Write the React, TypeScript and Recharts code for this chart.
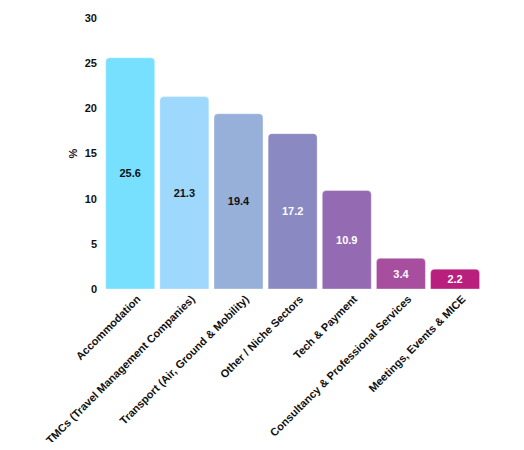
import React from 'react';
import { BarChart, Bar, XAxis, YAxis, Cell, LabelList } from 'recharts';

const categories = [
  'Accommodation',
  'TMCs (Travel Management Companies)',
  'Transport (Air, Ground & Mobility)',
  'Other / Niche Sectors',
  'Tech & Payment',
  'Consultancy & Professional Services',
  'Meetings, Events & MICE',
];
const values = [25.6, 21.3, 19.4, 17.2, 10.9, 3.4, 2.2];
const colors = ['#77E0FF', '#9ED8FD', '#97B0D9', '#8A89C2', '#946BB3', '#A74E9F', '#B91F7D'];
const labelColors = ['#111111', '#111111', '#111111', '#ffffff', '#ffffff', '#ffffff', '#ffffff'];
const yTicks = [0, 5, 10, 15, 20, 25, 30];

const data = categories.map((name, i) => ({ name, value: values[i] }));

const FONT = '"Liberation Sans", Arial, sans-serif';

const XTick = (props: any) => {
  const { x, y, payload } = props;
  return (
    <g transform={`translate(${x},${y})`}>
      <text
        x={0}
        y={0}
        dx={6}
        dy={10}
        textAnchor="end"
        transform="rotate(-45)"
        fontFamily={FONT}
        fontSize={11}
        fontWeight="bold"
        fill="#111"
      >
        {payload.value}
      </text>
    </g>
  );
};

const CenterLabel = (props: any) => {
  const { x, y, width, height, value, index } = props;
  return (
    <text
      x={x + width / 2}
      y={y + height / 2}
      textAnchor="middle"
      dominantBaseline="central"
      fontFamily={FONT}
      fontSize={11}
      fontWeight="bold"
      fill={labelColors[index]}
    >
      {value}
    </text>
  );
};

export default function App() {
  return (
    <div style={{ width: 508, height: 434 }}>
      <BarChart
        width={508}
        height={434}
        data={data}
        margin={{ top: 10, right: 34, left: 35, bottom: 3 }}
        barCategoryGap="5%"
      >
        <XAxis
          dataKey="name"
          axisLine={false}
          tickLine={false}
          interval={0}
          height={150}
          tick={<XTick />}
        />
        <YAxis
          width={60}
          domain={[0, 30]}
          ticks={yTicks}
          axisLine={false}
          tickLine={false}
          tickMargin={0}
          tick={{ fontFamily: FONT, fontSize: 11, fontWeight: 'bold', fill: '#111' }}
          label={{
            value: '%',
            angle: -90,
            position: 'insideLeft',
            offset: 30,
            style: { fontFamily: FONT, fontSize: 11, fontWeight: 'bold', fill: '#111', textAnchor: 'middle' },
          }}
        />
        <Bar dataKey="value" isAnimationActive={false} radius={[4, 4, 0, 0]}>
          {data.map((d, i) => (
            <Cell key={d.name} fill={colors[i]} stroke="#ffffff" strokeOpacity={0.35} strokeWidth={1} />
          ))}
          <LabelList dataKey="value" content={<CenterLabel />} />
        </Bar>
      </BarChart>
    </div>
  );
}
